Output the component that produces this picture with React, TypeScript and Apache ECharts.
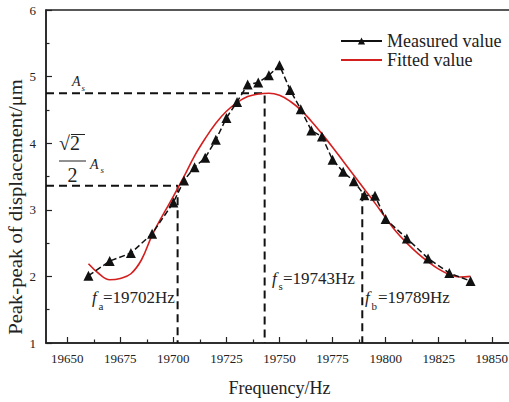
import React, { useEffect, useRef } from "react";
import * as echarts from "echarts";

// ---- Data ----
const measuredFreq = [19660, 19670, 19680, 19690, 19700, 19705, 19710, 19715, 19720, 19725, 19730, 19735, 19740, 19745, 19750, 19755, 19760, 19765, 19770, 19775, 19780, 19785, 19790, 19795, 19800, 19810, 19820, 19830, 19840];
const measuredValues = [2.01, 2.23, 2.35, 2.64, 3.11, 3.44, 3.64, 3.78, 4.05, 4.38, 4.62, 4.88, 4.91, 5.02, 5.17, 4.80, 4.51, 4.19, 4.10, 3.75, 3.57, 3.43, 3.22, 3.21, 2.86, 2.57, 2.27, 2.05, 1.93];

const fittedFreq = [19660, 19665, 19670, 19675, 19680, 19685, 19690, 19695, 19700, 19705, 19710, 19715, 19720, 19725, 19730, 19735, 19740, 19745, 19750, 19755, 19760, 19765, 19770, 19775, 19780, 19785, 19790, 19795, 19800, 19805, 19810, 19815, 19820, 19825, 19830, 19835, 19840];
const fittedValues = [2.19, 2.04, 1.95, 1.97, 2.04, 2.25, 2.62, 2.92, 3.20, 3.50, 3.81, 4.07, 4.30, 4.48, 4.61, 4.70, 4.74, 4.75, 4.72, 4.63, 4.50, 4.33, 4.14, 3.94, 3.73, 3.52, 3.31, 3.10, 2.88, 2.67, 2.50, 2.35, 2.22, 2.11, 2.03, 1.99, 2.00];

const xMajorTicks = [19650, 19675, 19700, 19725, 19750, 19775, 19800, 19825, 19850];
const xMinorTicks = [19662.5, 19687.5, 19712.5, 19737.5, 19762.5, 19787.5, 19812.5, 19837.5];

const fS = 19743;
const fA = 19702;
const fB = 19789;
const As = 4.75;
const halfAs = 3.36;
const fBTop = 3.25;

const seriesNames = ["Measured value", "Fitted value"];
const xName = "Frequency/Hz";
const yName = "Peak-peak of displacement/μm";
const labelA = "19702Hz";
const labelS = "19743Hz";
const labelB = "19789Hz";

const FONT = "Liberation Serif";

export default function App() {
  const ref = useRef<HTMLDivElement>(null);

  useEffect(() => {
    if (!ref.current) return;
    const chart = echarts.init(ref.current, undefined, { renderer: "svg" });

    const measured = measuredFreq.map((f, i) => [f, measuredValues[i]]);
    const fitted = fittedFreq.map((f, i) => [f, fittedValues[i]]);

    const dashStyle = { color: "#111", width: 2, type: [8, 5] as any };
    const refSeries = (data: number[][]) => ({
      type: "line",
      data,
      symbol: "none",
      silent: true,
      lineStyle: dashStyle,
      z: 1,
      legendHoverLink: false,
    });

    const txt = (x: number, y: number, text: string, size: number, italic = false, extra: any = {}) => ({
      type: "text",
      x,
      y,
      silent: true,
      style: {
        text,
        fontFamily: FONT,
        fontSize: size,
        fontStyle: italic ? "italic" : "normal",
        fill: "#222",
        align: "left",
        verticalAlign: "middle",
      },
      ...extra,
    });

    chart.setOption({
      animation: false,
      backgroundColor: "#fff",
      grid: {
        left: 46,
        right: 2,
        top: 10,
        bottom: 55,
        show: true,
        borderColor: "#222",
        borderWidth: 1.5,
        backgroundColor: "transparent",
      },
      legend: {
        orient: "vertical",
        left: 335,
        top: 27,
        itemWidth: 41,
        itemHeight: 9,
        itemGap: 1,
        data: [
          { name: seriesNames[0] },
          { name: seriesNames[1], itemStyle: { opacity: 0 } },
        ],
        lineStyle: { type: "solid", width: 2 },
        textStyle: { fontFamily: FONT, fontSize: 18, color: "#222" },
        selectedMode: false,
      },
      xAxis: [
        {
          type: "value",
          min: 19640,
          max: 19860,
          name: xName,
          nameLocation: "middle",
          nameGap: 36,
          nameTextStyle: { fontFamily: FONT, fontSize: 18, color: "#222" },
          axisLine: { show: true, lineStyle: { color: "#222", width: 1.5 } },
          axisTick: { show: true, inside: true, length: 6, customValues: xMajorTicks, lineStyle: { color: "#222", width: 1.2 } },
          axisLabel: { customValues: xMajorTicks, formatter: (v: number) => String(v), fontFamily: FONT, fontSize: 13, color: "#222", margin: 9 },
          splitLine: { show: false },
        },
        {
          type: "value",
          min: 19640,
          max: 19860,
          position: "bottom",
          axisLine: { show: false },
          axisTick: { show: true, inside: true, length: 3.5, customValues: xMinorTicks, lineStyle: { color: "#222", width: 1.2 } },
          axisLabel: { show: false },
          splitLine: { show: false },
        },
      ],
      yAxis: {
        type: "value",
        min: 1,
        max: 6,
        interval: 1,
        axisLine: { show: true, lineStyle: { color: "#222", width: 1.5 } },
        axisTick: { show: true, inside: true, length: 6, lineStyle: { color: "#222", width: 1.2 } },
        minorTick: { show: true, splitNumber: 2, length: 3.5, lineStyle: { color: "#222", width: 1.2 } },
        axisLabel: { fontFamily: FONT, fontSize: 13, color: "#222", margin: 10 },
        splitLine: { show: false },
      },
      series: [
        {
          name: seriesNames[0],
          type: "line",
          data: measured,
          symbol: "triangle",
          symbolSize: 10,
          itemStyle: { color: "#111" },
          lineStyle: { color: "#111", width: 1.5, type: [6, 3] },
          z: 4,
        },
        {
          name: seriesNames[1],
          type: "line",
          data: fitted,
          smooth: 0.4,
          symbol: "none",
          itemStyle: { color: "#d41f1f" },
          lineStyle: { color: "#d41f1f", width: 1.6 },
          z: 3,
        },
        refSeries([[19640, As], [fS, As], [fS, 1]]),
        refSeries([[19640, halfAs], [fA, halfAs], [fA, 1]]),
        refSeries([[fB, fBTop], [fB, 1]]),
      ],
      graphic: [
        txt(16, 207, yName, 18, false, { rotation: Math.PI / 2, scaleX: 1.15, style: { text: yName, fontFamily: FONT, fontSize: 18, fill: "#222", align: "center", verticalAlign: "middle" } }),
        txt(72, 81.5, "A", 14, true),
        txt(81.5, 88, "s", 9, true),
        txt(59, 143, "√2", 20),
        { type: "line", silent: true, shape: { x1: 71, y1: 134.5, x2: 85, y2: 134.5 }, style: { stroke: "#222", lineWidth: 1 } },
        { type: "line", silent: true, shape: { x1: 59, y1: 161, x2: 86, y2: 161 }, style: { stroke: "#222", lineWidth: 1 } },
        txt(67.5, 175, "2", 20),
        txt(90, 164.5, "A", 14, true),
        txt(100.5, 170, "s", 9, true),
        txt(92, 297.5, "f", 17, true),
        txt(98.5, 306, "a", 11),
        txt(103, 297.5, "=" + labelA, 17),
        txt(272, 278.5, "f", 17, true),
        txt(278.5, 286, "s", 11),
        txt(283, 278.5, "=" + labelS, 17),
        txt(365, 297.5, "f", 17, true),
        txt(371.5, 306, "b", 11),
        txt(378, 297.5, "=" + labelB, 17),
      ],
    });

    return () => chart.dispose();
  }, []);

  return (
    <div style={{ position: "absolute", left: 0, top: 0, width: 509, height: 402, overflow: "hidden", background: "#fff" }}>
      <div ref={ref} style={{ width: 515, height: 402 }} />
    </div>
  );
}
